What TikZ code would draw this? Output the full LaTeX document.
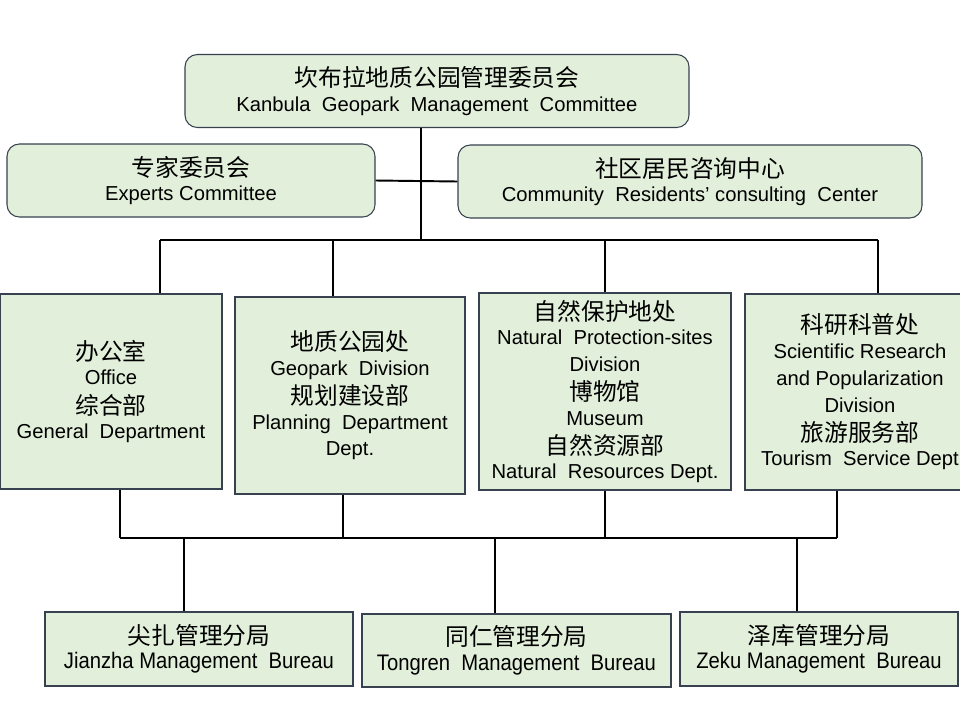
\documentclass[tikz,border=0pt]{standalone}
\usepackage{fontspec}
\usepackage{tikz}
\setmainfont{Liberation Sans}
\newfontfamily\cjk{Noto Sans CJK SC}
\newfontfamily\narrowfont[FakeStretch=0.9]{Liberation Sans}
\usetikzlibrary{positioning, calc}
\definecolor{boxfill}{RGB}{226,239,218}
\definecolor{boxline}{RGB}{55,65,80}
\newcommand{\zh}[1]{\raisebox{-1.4pt}{\cjk\fontsize{13.5}{15.3}\selectfont #1}}
\newcommand{\nw}[1]{{\narrowfont\fontsize{12.8}{15.3}\selectfont #1}}
\newcommand{\tightlines}{\lineskiplimit=-20pt\relax}

\tikzset{
    unitbox/.style={draw=boxline, fill=boxfill, line width=0.6pt, align=center,
        inner sep=2pt, font=\fontsize{11.5}{15.3}\selectfont\tightlines},
    roundbox/.style={unitbox, rounded corners=7pt},
    link/.style={line width=1.1pt, black}
}

\begin{document}
\begin{tikzpicture}
    \clip (0,0) rectangle (19.2,-14.4);
    \useasboundingbox (0,0) rectangle (19.2,-14.4);
    \fill[white] (0,0) rectangle (19.2,-14.4);

    % top level
    \node[roundbox, minimum width=10.08cm, minimum height=1.46cm] (committee) at (8.74,-1.82)
        {\zh{坎布拉地质公园管理委员会}\\Kanbula\ \ Geopark\ \ Management\ \ Committee};
    \node[roundbox, minimum width=7.36cm, minimum height=1.46cm] (experts) at (3.82,-3.61)
        {\zh{专家委员会}\\Experts Committee};
    \node[roundbox, minimum width=9.28cm, minimum height=1.46cm] (community) at (13.8,-3.63)
        {\zh{社区居民咨询中心}\\Community\ \ Residents' consulting\ \ Center};

    % divisions
    \node[unitbox, minimum width=4.44cm, minimum height=3.9cm] (office) at (2.22,-7.83)
        {\zh{办公室}\\Office\\\zh{综合部}\\General\ \ Department};
    \node[unitbox, minimum width=4.6cm, minimum height=3.94cm] (geopark) at (7.0,-7.91)
        {\zh{地质公园处}\\Geopark\ \ Division\\\zh{规划建设部}\\Planning\ \ Department\\Dept.};
    \node[unitbox, minimum width=5.04cm, minimum height=3.94cm] (natural) at (12.1,-7.83)
        {\zh{自然保护地处}\\Natural\ \ Protection-sites\\Division\\\zh{博物馆}\\Museum\\\zh{自然资源部}\\Natural\ \ Resources Dept.};
    \node[unitbox, minimum width=4.6cm, minimum height=3.92cm] (science) at (17.2,-7.84)
        {\zh{科研科普处}\\Scientific Research\\and Popularization\\Division\\\zh{旅游服务部}\\Tourism\ \ Service Dept};

    % bureaus
    \node[unitbox, minimum width=6.16cm, minimum height=1.48cm] (jianzha) at (3.98,-12.98)
        {\zh{尖扎管理分局}\\\nw{Jianzha Management\ \ Bureau}};
    \node[unitbox, minimum width=6.18cm, minimum height=1.46cm] (tongren) at (10.33,-13.01)
        {\zh{同仁管理分局}\\\nw{Tongren\ \ Management\ \ Bureau}};
    \node[unitbox, minimum width=5.56cm, minimum height=1.48cm] (zeku) at (16.38,-12.98)
        {\zh{泽库管理分局}\\\nw{Zeku Management\ \ Bureau}};

    % connectors
    \coordinate (hub) at (8.42,-4.8);
    \coordinate (busL) at (3.2,-4.8);
    \coordinate (busR) at (17.56,-4.8);
    \coordinate (lowL) at (2.4,-10.76);
    \coordinate (lowR) at (16.74,-10.76);

    \draw[link] (committee.south -| hub) -- (hub);
    \draw[link] (experts.east) -- (community.west);
    \draw[link] (busL) -- (busR);
    \foreach \n/\x in {office/3.2, geopark/6.66, natural/12.1, science/17.56}
        \draw[link] (\x,-4.8) -- (\n.north -| \x,0);
    \draw[link] (lowL) -- (lowR);
    \foreach \n/\x in {office/2.4, geopark/6.86, natural/12.1, science/16.74}
        \draw[link] (\n.south -| \x,0) -- (\x,-10.76);
    \foreach \n/\x in {jianzha/3.68, tongren/9.9, zeku/15.94}
        \draw[link] (\x,-10.76) -- (\n.north -| \x,0);
\end{tikzpicture}
\end{document}
